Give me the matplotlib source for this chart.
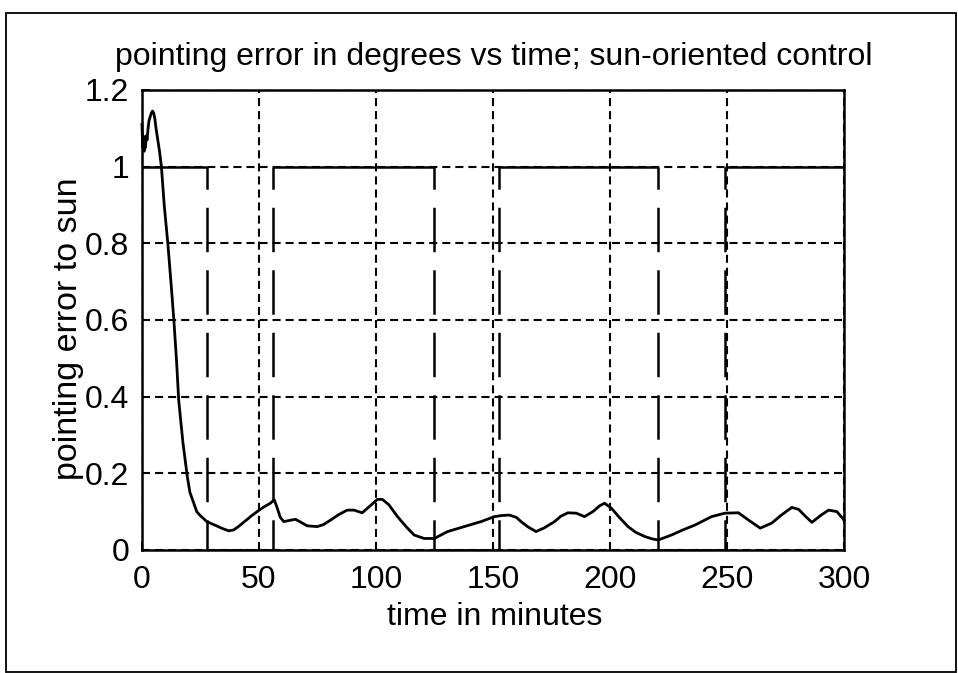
import matplotlib
matplotlib.use("Agg")
import matplotlib.pyplot as plt
from matplotlib.patches import Rectangle

plt.rcParams['font.family'] = ['Liberation Sans', 'DejaVu Sans']
plt.rcParams['lines.scale_dashes'] = False

# pointing error curve (minutes, degrees)
time_min = [0, 0.3, 0.6, 0.9, 1.2, 1.5, 1.8, 2.2, 2.6, 3.0, 3.5, 4.0, 4.5, 5.0, 5.5,
            6.0, 6.5, 7.0, 7.5, 8.3, 9.5, 11.1, 12.5, 13.7, 14.8, 15.7, 17.5, 19.4,
            20.5, 21.9, 23.4, 24.7, 27.7, 31.1, 34, 37, 39.1, 41, 44, 47, 49.2, 52,
            54.9, 56.5, 57.5, 59.1, 60.6, 63, 65.6, 68, 70.6, 74.9, 77.5, 80.6, 84,
            87.7, 90.6, 94.1, 97.5, 100.6, 102.7, 105.5, 109.2, 113, 116.3, 120.6,
            124.9, 130.6, 137.7, 144.9, 150.6, 154, 157, 160, 162, 165, 168.4, 172,
            176.3, 179, 182, 185.6, 189.1, 192.7, 195.5, 197.7, 200.6, 204, 207.7,
            211, 214.9, 218, 220.6, 226.3, 231, 236.3, 243.4, 249.1, 254.9, 259.2,
            264.2, 269.1, 273, 277.7, 280.6, 283.5, 286.3, 290, 293.4, 297, 300]
pointing_error = [1.11, 1.05, 1.08, 1.04, 1.07, 1.05, 1.08, 1.07, 1.10, 1.12, 1.13,
                  1.14, 1.145, 1.14, 1.125, 1.10, 1.08, 1.06, 1.04, 1.00, 0.90, 0.796,
                  0.69, 0.593, 0.49, 0.39, 0.28, 0.19, 0.15, 0.126, 0.10, 0.091, 0.074,
                  0.065, 0.057, 0.050, 0.052, 0.060, 0.075, 0.09, 0.100, 0.112, 0.122,
                  0.131, 0.115, 0.085, 0.074, 0.077, 0.080, 0.072, 0.063, 0.061, 0.066,
                  0.078, 0.092, 0.104, 0.104, 0.097, 0.115, 0.132, 0.132, 0.118, 0.087,
                  0.060, 0.039, 0.030, 0.030, 0.048, 0.061, 0.074, 0.087, 0.090, 0.091,
                  0.085, 0.074, 0.060, 0.048, 0.058, 0.074, 0.088, 0.097, 0.096, 0.087,
                  0.100, 0.115, 0.122, 0.109, 0.085, 0.061, 0.046, 0.035, 0.029, 0.026,
                  0.039, 0.052, 0.065, 0.087, 0.096, 0.097, 0.078, 0.057, 0.070, 0.090,
                  0.111, 0.106, 0.088, 0.072, 0.090, 0.104, 0.100, 0.078]

# sun visibility flag (1 = sunlit, 0 = eclipse)
eclipse_start = [27.9, 124.9, 220.6]
eclipse_end = [56.2, 152.4, 249.0]
sun_level = 1.0
t_end = 300

x_ticks = [0, 50, 100, 150, 200, 250, 300]
y_ticks = [0, 0.2, 0.4, 0.6, 0.8, 1, 1.2]
y_ticklabels = ['0', '0.2', '0.4', '0.6', '0.8', '1', '1.2']

fig = plt.figure(figsize=(9.58, 6.73), dpi=100)
ax = fig.add_axes([0.1482, 0.1828, 0.7328, 0.6835])

ax.set_xlim(0, 300)
ax.set_ylim(0, 1.2)
ax.set_xticks(x_ticks)
ax.set_yticks(y_ticks)
ax.set_yticklabels(y_ticklabels)
ax.tick_params(direction='in', length=6, width=1.4, labelsize=23, pad=9, colors='black')
ax.tick_params(axis='x', pad=11)
for s in ax.spines.values():
    s.set_linewidth(1.8)
    s.set_color('black')

ax.grid(True, color='black', linewidth=1.5, linestyle=(0, (5.8, 3.6)))

# sun flag: solid horizontals, long-dashed verticals
starts = [0] + eclipse_end
ends = eclipse_start + [t_end]
for a, b in zip(starts, ends):
    ax.plot([a, b], [sun_level, sun_level], color='black', lw=1.8, solid_capstyle='butt')
for a, b in zip(eclipse_start, eclipse_end):
    ax.plot([a, b], [0, 0], color='black', lw=1.8)
for t in eclipse_start + eclipse_end:
    ax.plot([t, t], [sun_level, 0], color='black', lw=1.8,
            linestyle=(16, (32, 13)), dash_capstyle='butt')

ax.plot(time_min, pointing_error, color='black', lw=2.0, clip_on=False)

fig.text(0.515, 0.9034, 'pointing error in degrees vs time; sun-oriented control',
         ha='center', va='baseline', fontsize=23)
fig.text(0.516, 0.0713, 'time in minutes', ha='center', va='baseline', fontsize=23)
fig.text(0.0715, 0.511, 'pointing error to sun', ha='center', va='center',
         rotation=90, fontsize=24.5)

# outer frame
fig.add_artist(Rectangle((6 / 958, 1 / 673), 950 / 958, 659 / 673, transform=fig.transFigure,
                         fill=False, edgecolor='black', linewidth=1.3))

fig.savefig('out.png', dpi=100)
